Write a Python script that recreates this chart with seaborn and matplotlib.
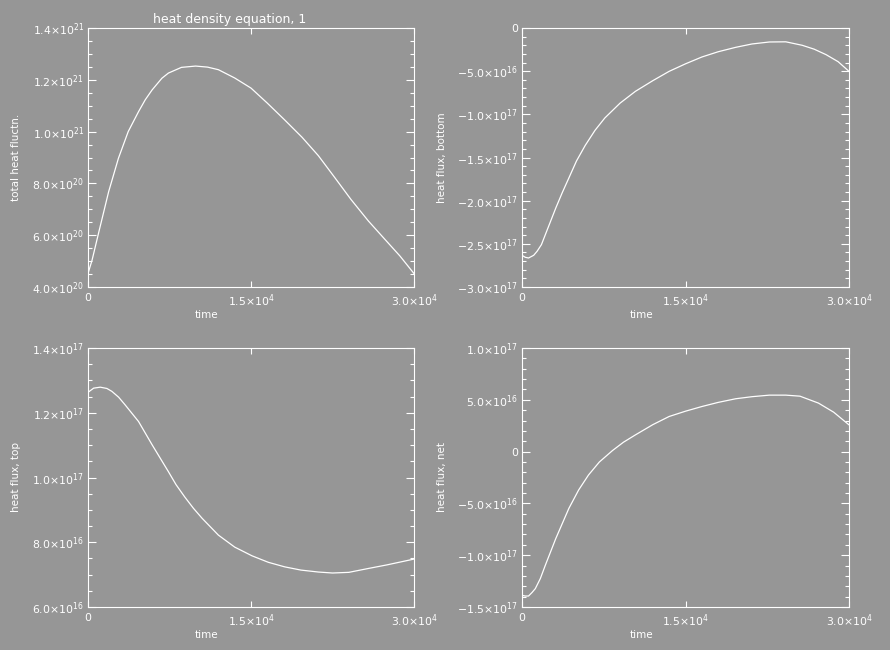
#!/usr/bin/env python3
"""
Heat density equation diagnostics: 4 time series panels in the old IDL look.
"""

import matplotlib
matplotlib.use("Agg")
import matplotlib.pyplot as plt
from matplotlib.ticker import FixedLocator, FixedFormatter, MultipleLocator
import pandas as pd
import seaborn as sns

# ---- data ----
# total heat fluctuation (x1e21)
t_total = [0, 370, 1000, 1900, 2800, 3700, 4650, 5270, 5900, 6800, 7400, 8600,
           9900, 11000, 12000, 13500, 15000, 16500, 18100, 19700, 21200, 22700,
           24200, 25800, 27300, 28700, 30000]
v_total = [0.452, 0.503, 0.613, 0.768, 0.897, 1.0, 1.077, 1.123, 1.161, 1.206,
           1.226, 1.248, 1.253, 1.249, 1.239, 1.207, 1.168, 1.11, 1.045, 0.978,
           0.907, 0.823, 0.738, 0.655, 0.585, 0.52, 0.452]

# heat flux, bottom (x1e17)
t_bottom = [0, 300, 600, 1070, 1380, 1780, 2140, 3100, 3700, 4300, 5000, 5800,
            6700, 7600, 9000, 10400, 12000, 13500, 15000, 16500, 18000, 19600,
            21100, 22700, 24200, 25700, 26800, 27900, 29000, 30000]
v_bottom = [-2.633, -2.656, -2.664, -2.633, -2.587, -2.51, -2.394, -2.085,
            -1.905, -1.737, -1.54, -1.36, -1.185, -1.042, -0.87, -0.734, -0.61,
            -0.502, -0.415, -0.336, -0.275, -0.224, -0.185, -0.162, -0.160,
            -0.20, -0.245, -0.309, -0.39, -0.502]

# heat flux, top (x1e17)
t_top = [0, 520, 1130, 1740, 2200, 2820, 3400, 4650, 5900, 7400, 8100, 8900,
         9700, 10500, 12000, 13500, 15100, 16600, 18100, 19600, 21200, 22500,
         24000, 25800, 27500, 30000]
v_top = [1.263, 1.276, 1.279, 1.275, 1.266, 1.248, 1.225, 1.173, 1.101, 1.018,
         0.978, 0.94, 0.905, 0.874, 0.822, 0.785, 0.758, 0.738, 0.724, 0.714,
         0.708, 0.705, 0.707, 0.719, 0.73, 0.748]

# heat flux, net (x1e17)
t_net = [0, 300, 600, 920, 1220, 1680, 2140, 3100, 4300, 5200, 6100, 7100,
         8300, 9300, 10400, 12000, 13500, 15000, 16500, 18000, 19600, 21100,
         22700, 24200, 25500, 27200, 28600, 30000]
v_net = [-1.387, -1.394, -1.394, -1.36, -1.323, -1.226, -1.097, -0.839, -0.548,
         -0.37, -0.226, -0.10, 0.01, 0.09, 0.161, 0.26, 0.339, 0.39, 0.435,
         0.475, 0.51, 0.53, 0.545, 0.545, 0.535, 0.468, 0.38, 0.258]

# axis ticks / labels
x_ticks = [0, 15000, 30000]
x_labels = ["0", r"$1.5{\times}10^{4}$", r"$3.0{\times}10^{4}$"]

y_ticks_total = [4e20, 6e20, 8e20, 1.0e21, 1.2e21, 1.4e21]
y_labels_total = [r"$4.0{\times}10^{20}$", r"$6.0{\times}10^{20}$", r"$8.0{\times}10^{20}$",
                  r"$1.0{\times}10^{21}$", r"$1.2{\times}10^{21}$", r"$1.4{\times}10^{21}$"]
y_ticks_bottom = [-3e17, -2.5e17, -2e17, -1.5e17, -1e17, -5e16, 0]
y_labels_bottom = [r"$-3.0{\times}10^{17}$", r"$-2.5{\times}10^{17}$", r"$-2.0{\times}10^{17}$",
                   r"$-1.5{\times}10^{17}$", r"$-1.0{\times}10^{17}$", r"$-5.0{\times}10^{16}$", "0"]
y_ticks_top = [6e16, 8e16, 1.0e17, 1.2e17, 1.4e17]
y_labels_top = [r"$6.0{\times}10^{16}$", r"$8.0{\times}10^{16}$", r"$1.0{\times}10^{17}$",
                r"$1.2{\times}10^{17}$", r"$1.4{\times}10^{17}$"]
y_ticks_net = [-1.5e17, -1e17, -5e16, 0, 5e16, 1e17]
y_labels_net = [r"$-1.5{\times}10^{17}$", r"$-1.0{\times}10^{17}$", r"$-5.0{\times}10^{16}$",
                "0", r"$5.0{\times}10^{16}$", r"$1.0{\times}10^{17}$"]

BG = "#969696"
FG = "white"

sns.set_theme(style="ticks", rc={
    "figure.facecolor": BG,
    "axes.facecolor": BG,
    "axes.edgecolor": FG,
    "axes.labelcolor": FG,
    "xtick.color": FG,
    "ytick.color": FG,
    "text.color": FG,
    "axes.linewidth": 0.8,
})
plt.rcParams["font.family"] = ["DejaVu Sans"]
plt.rcParams["mathtext.fontset"] = "dejavusans"

fig = plt.figure(figsize=(8.9, 6.5), dpi=100)
W, H = 890, 650


def add_axes(x0, y0, x1, y1):
    return fig.add_axes([x0 / W, 1 - y1 / H, (x1 - x0) / W, (y1 - y0) / H])


panels = [
    # (box, t, v, scale, ylim, yticks, ylabels, minor, ylabel, ylabel_x)
    ((88, 28, 414, 287), t_total, v_total, 1e21, (4e20, 1.4e21),
     y_ticks_total, y_labels_total, 0.5e20, "total heat fluctn.", -0.205),
    ((522, 28, 849, 287), t_bottom, v_bottom, 1e17, (-3e17, 0),
     y_ticks_bottom, y_labels_bottom, 1e16, "heat flux, bottom", -0.228),
    ((88, 348, 414, 607), t_top, v_top, 1e17, (6e16, 1.4e17),
     y_ticks_top, y_labels_top, 0.5e16, "heat flux, top", -0.205),
    ((522, 348, 849, 607), t_net, v_net, 1e17, (-1.5e17, 1e17),
     y_ticks_net, y_labels_net, 1e16, "heat flux, net", -0.228),
]

for box, t, v, scale, ylim, yt, yl, minor, ylab, lx in panels:
    ax = add_axes(*box)
    df = pd.DataFrame({"time": t, "value": [x * scale for x in v]})
    sns.lineplot(data=df, x="time", y="value", ax=ax, color=FG, linewidth=0.9)
    ax.set_xlim(0, 30000)
    ax.set_ylim(*ylim)
    for s in ax.spines.values():
        s.set_visible(True)
        s.set_color(FG)
        s.set_linewidth(0.8)

    ax.xaxis.set_major_locator(FixedLocator(x_ticks))
    ax.xaxis.set_major_formatter(FixedFormatter(x_labels))
    ax.yaxis.set_major_locator(FixedLocator(yt))
    ax.yaxis.set_major_formatter(FixedFormatter(yl))
    ax.yaxis.set_minor_locator(MultipleLocator(minor))

    ax.tick_params(axis="x", which="major", direction="in", length=4, width=0.8,
                   top=True, bottom=True, labelsize=7.8, pad=4, colors=FG)
    ax.tick_params(axis="y", which="major", direction="in", length=5.5, width=0.8,
                   left=True, right=True, labelsize=7.8, pad=3, colors=FG)
    ax.tick_params(axis="y", which="minor", direction="in", length=3, width=0.8,
                   left=True, right=True, colors=FG)
    ax.tick_params(axis="x", which="minor", bottom=False, top=False)

    ax.set_xlabel("time", fontsize=7.5, color=FG)
    ax.xaxis.set_label_coords(0.365, -0.088)
    ax.set_ylabel(ylab, fontsize=7.5, color=FG)
    ax.yaxis.set_label_coords(lx, 0.5)

fig.text(230 / W, 1 - 20 / H, "heat density equation, 1", ha="center", va="center",
         fontsize=9, color=FG)

plt.savefig("out.png", dpi=100, facecolor=BG)
plt.close()
